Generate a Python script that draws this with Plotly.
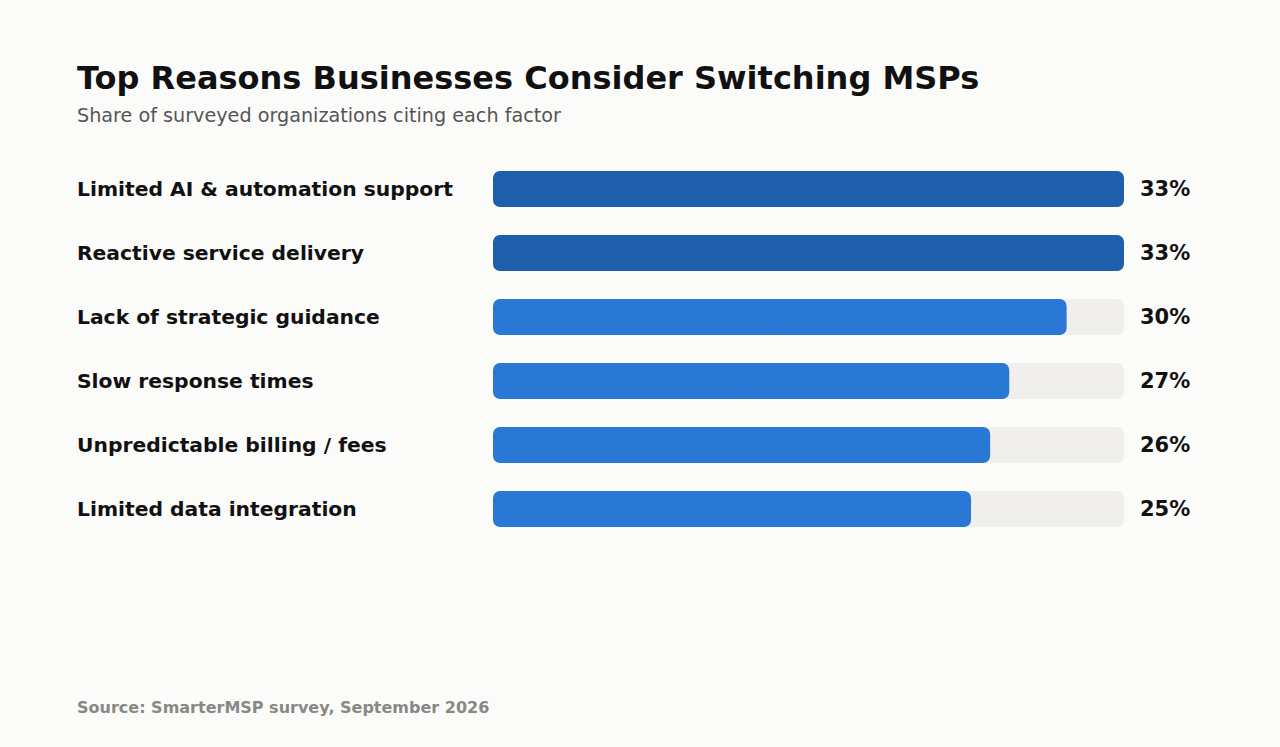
import plotly.graph_objects as go

categories = [
    "Limited AI & automation support",
    "Reactive service delivery",
    "Lack of strategic guidance",
    "Slow response times",
    "Unpredictable billing / fees",
    "Limited data integration",
]
values = [33, 33, 30, 27, 26, 25]
value_labels = ["33%", "33%", "30%", "27%", "26%", "25%"]
highlight = [True, True, False, False, False, False]

W, H = 1280, 747
x0, x1 = 493, 1124
top, bottom = 157, 541
vmax = max(values)
left_px = 75

dark = "#1f5ead"
light = "#2a78d6"
track = "#f0efed"
bg = "#fbfbfa"
bw = 0.5625

fig = go.Figure()


def rounded_bars(vals, colors):
    # right half: rounded end at the value; left half: rounded end at zero
    mids = [v * 0.45 for v in vals]
    fig.add_trace(go.Bar(
        y=categories, x=[v - m for v, m in zip(vals, mids)], base=mids,
        orientation="h", marker=dict(color=colors, line=dict(width=0)),
        width=bw, hoverinfo="skip", showlegend=False,
    ))
    fig.add_trace(go.Bar(
        y=categories, x=[-v * 0.5 for v in vals], base=[v * 0.5 for v in vals],
        orientation="h", marker=dict(color=colors, line=dict(width=0)),
        width=bw, hoverinfo="skip", showlegend=False,
    ))


rounded_bars([vmax] * len(categories), [track] * len(categories))
rounded_bars(values, [dark if h else light for h in highlight])

annotations = []
for c, lab in zip(categories, value_labels):
    annotations.append(dict(
        x=left_px / W, xref="paper", y=c, yref="y", text=c, showarrow=False,
        xanchor="left", yanchor="middle",
        font=dict(family="DejaVu Sans", size=20.3, color="#111111", weight="bold"),
    ))
    annotations.append(dict(
        x=1138 / W, xref="paper", y=c, yref="y", text=lab, showarrow=False,
        xanchor="left", yanchor="middle",
        font=dict(family="DejaVu Sans", size=21, color="#111111", weight="bold"),
    ))

annotations += [
    dict(x=left_px / W, y=1 - 78 / H, xref="paper", yref="paper",
         text="Top Reasons Businesses Consider Switching MSPs", showarrow=False,
         xanchor="left", yanchor="middle",
         font=dict(family="DejaVu Sans", size=32, color="#111111", weight="bold")),
    dict(x=left_px / W, y=1 - 116 / H, xref="paper", yref="paper",
         text="Share of surveyed organizations citing each factor", showarrow=False,
         xanchor="left", yanchor="middle",
         font=dict(family="DejaVu Sans", size=19.2, color="#555555")),
    dict(x=left_px / W, y=1 - 707 / H, xref="paper", yref="paper",
         text="Source: SmarterMSP survey, September 2026", showarrow=False,
         xanchor="left", yanchor="middle",
         font=dict(family="DejaVu Sans", size=16, color="#888884", weight="bold")),
]

fig.update_layout(
    width=W, height=H,
    margin=dict(l=0, r=0, t=0, b=0),
    paper_bgcolor=bg, plot_bgcolor=bg,
    barmode="overlay", barcornerradius=7,
    xaxis=dict(range=[0, vmax], domain=[x0 / W, x1 / W], visible=False, fixedrange=True),
    yaxis=dict(categoryorder="array", categoryarray=categories, autorange=False,
               range=[len(categories) - 0.5, -0.5],
               domain=[(H - bottom) / H, (H - top) / H], visible=False, fixedrange=True),
    annotations=annotations,
    font=dict(family="DejaVu Sans"),
)

fig.write_html(
    "out.html",
    config={"displayModeBar": False},
    post_script="document.body.style.margin='0';document.body.style.background='" + bg + "';",
)
